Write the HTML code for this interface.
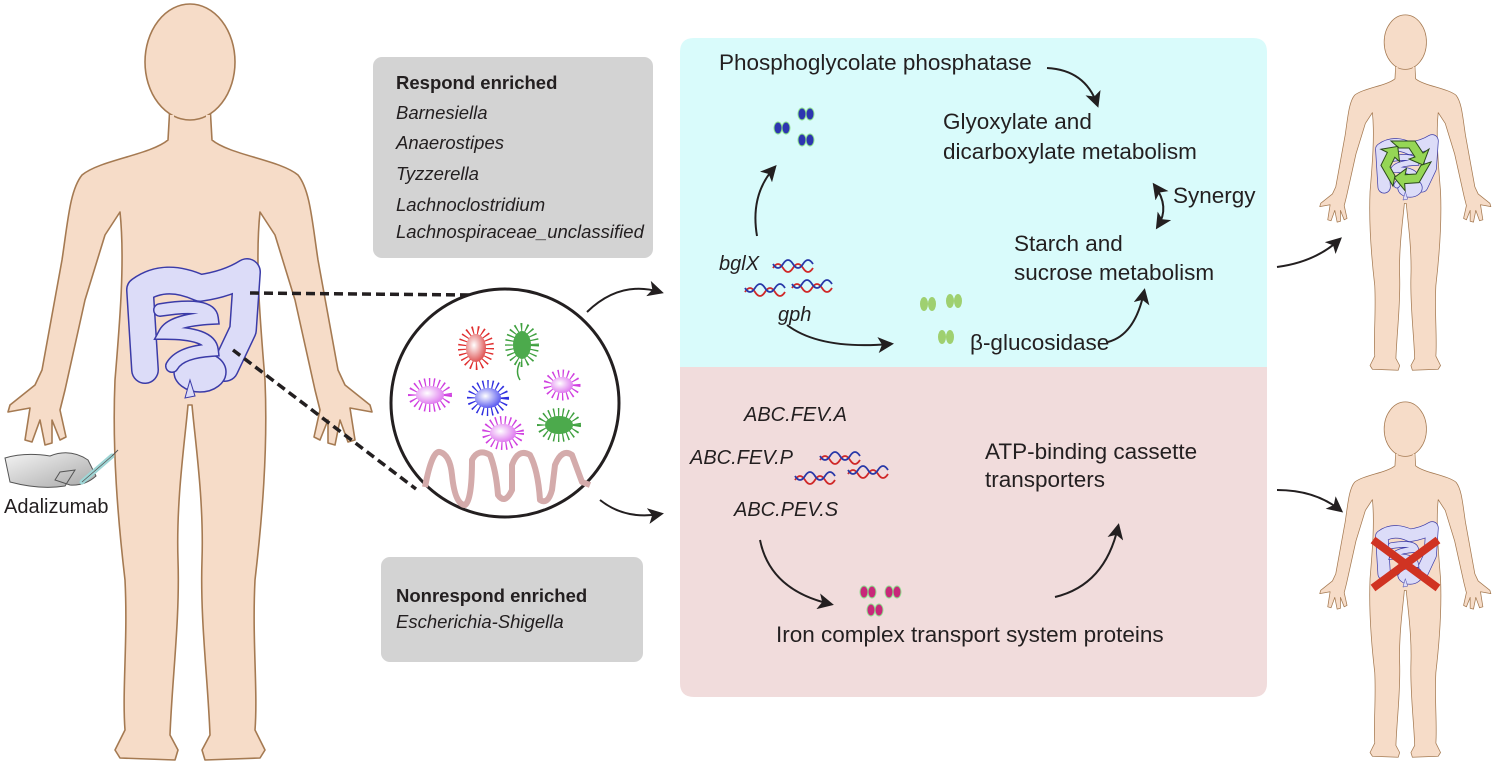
<!DOCTYPE html>
<html><head><meta charset="utf-8"><style>
html,body{margin:0;padding:0;background:#fff;}
svg{display:block;font-family:"Liberation Sans",Arial,sans-serif;}
</style></head><body>
<svg width="1500" height="763" viewBox="0 0 1500 763" xmlns="http://www.w3.org/2000/svg">
<defs>
<marker id="a" viewBox="0 0 12 12" refX="9" refY="6" markerWidth="16" markerHeight="16" orient="auto-start-reverse" markerUnits="userSpaceOnUse"><path d="M0,0 L12,6 L0,12 L3,6 Z" fill="#231f20"/></marker>
<radialGradient id="gw" cx="0.4" cy="0.4" r="0.6"><stop offset="0" stop-color="#fff"/><stop offset="1" stop-color="#fff" stop-opacity="0"/></radialGradient>
<linearGradient id="hand" x1="0" y1="0" x2="1" y2="1"><stop offset="0" stop-color="#f4f4f4"/><stop offset="1" stop-color="#a8a8a8"/></linearGradient>
<g id="intest">
 <path d="M145 370 L140 290 Q165 272 200 288 Q228 284 247 272 L243 330 L225 368" fill="none" stroke="#3b3ba8" stroke-width="28" stroke-linejoin="round" stroke-linecap="round"/>
 <path d="M145 370 L140 290 Q165 272 200 288 Q228 284 247 272 L243 330 L225 368" fill="none" stroke="#dcdcf8" stroke-width="25" stroke-linejoin="round" stroke-linecap="round"/>
 <ellipse cx="200" cy="372" rx="26" ry="20" fill="#dcdcf8" stroke="#3b3ba8" stroke-width="1.5"/>
 <path d="M160 310 Q210 302 212 318 Q172 320 165 333 Q210 333 212 350 Q180 352 172 366" fill="none" stroke="#3b3ba8" stroke-width="14" stroke-linecap="round"/>
 <path d="M160 310 Q210 302 212 318 Q172 320 165 333 Q210 333 212 350 Q180 352 172 366" fill="none" stroke="#dcdcf8" stroke-width="11" stroke-linecap="round"/>
 <path d="M190 380 L185 398 L195 396 Z" fill="#dcdcf8" stroke="#3b3ba8" stroke-width="1"/>
</g>
<g id="body">
 <path d="M170 105 L168 140 C150 155 100 160 82 175 C70 190 68 220 62 260 L42 370 L35 385 L10 405 L8 412 L30 408 L25 440 L32 442 L40 420 L45 445 L52 443 L52 420 L60 440 L66 437 L60 410 L65 390 L85 300 L105 235 L120 212 C125 260 120 320 115 380 C112 450 118 520 125 580 C128 640 122 690 125 730 L115 750 L120 758 L175 760 L178 750 L170 735 C172 680 180 620 178 560 C176 500 185 440 188 405 L192 405 C195 440 204 500 202 560 C200 620 208 680 210 735 L202 750 L205 760 L260 758 L265 750 L255 730 C258 690 252 640 255 580 C262 520 268 450 265 380 C260 320 255 260 260 212 L275 235 L295 300 L315 390 L320 410 L314 437 L320 440 L328 420 L328 443 L335 445 L340 420 L348 442 L355 440 L350 408 L372 412 L370 405 L345 385 L338 370 L318 260 C312 220 310 190 298 175 C280 160 230 155 212 140 L210 105 Z" fill="#f6dcc8" stroke="#a57a52" stroke-width="1.6" stroke-linejoin="round"/>
 <ellipse cx="190" cy="62" rx="45" ry="58" fill="#f6dcc8" stroke="#a57a52" stroke-width="1.6"/>
 <path d="M172 115 L172 128 M208 115 L208 128" stroke="#f6dcc8" stroke-width="4"/>
</g>
<g id="dna">
 <path d="M0 6 Q5 -2 10 6 T20 6 T30 6 T40 6" fill="none" stroke="#d02828" stroke-width="1.8"/>
 <path d="M0 2 Q5 10 10 2 T20 2 T30 2 T40 2" fill="none" stroke="#2838a8" stroke-width="1.8"/>
</g>
</defs>

<use href="#body"/>
<use href="#intest"/>

<path d="M5 458 Q25 452 50 456 Q70 448 88 460 L96 476 Q85 486 70 485 L55 480 L60 472 L75 470 L65 486 Q40 490 10 482 Z" fill="url(#hand)" stroke="#555" stroke-width="1"/>
<path d="M82 482 L112 456" stroke="#9fd6d6" stroke-width="5" stroke-linecap="round"/>
<path d="M82 482 L112 456" stroke="#555" stroke-width="0.8"/>
<path d="M112 456 L118 450" stroke="#555" stroke-width="1"/>
<text x="4" y="513" font-size="20" fill="#231f20">Adalizumab</text>

<path d="M250 293 L470 295" stroke="#231f20" stroke-width="3.5" stroke-dasharray="9 5"/>
<path d="M233 350 L416 489" stroke="#231f20" stroke-width="3.5" stroke-dasharray="9 5"/>

<rect x="373" y="57" width="280" height="201" rx="9" fill="#d3d3d3"/>
<text x="396" y="89" font-size="18.5" font-weight="bold" fill="#231f20">Respond enriched</text>
<g font-size="18.5" font-style="italic" fill="#231f20">
<text x="396" y="119">Barnesiella</text>
<text x="396" y="149">Anaerostipes</text>
<text x="396" y="180">Tyzzerella</text>
<text x="396" y="211">Lachnoclostridium</text>
<text x="396" y="238">Lachnospiraceae_unclassified</text>
</g>
<rect x="381" y="557" width="262" height="105" rx="9" fill="#d3d3d3"/>
<text x="396" y="602" font-size="18.5" font-weight="bold" fill="#231f20">Nonrespond enriched</text>
<text x="396" y="628" font-size="18.5" font-style="italic" fill="#231f20">Escherichia-Shigella</text>

<circle cx="505" cy="403" r="114" fill="#fff" stroke="#231f20" stroke-width="3"/>
<path d="M425 487 Q432 450 440 452 Q450 455 452 475 Q455 505 465 505 Q472 500 472 460 Q478 448 490 455 Q496 470 498 495 Q505 505 512 490 L512 465 Q518 448 530 455 Q538 470 540 500 Q548 505 552 490 L555 465 Q562 448 572 455 L582 482 L590 485" fill="none" stroke="#d4abab" stroke-width="6" stroke-linejoin="round"/>
<g>
 <ellipse cx="476" cy="348" rx="12" ry="16" fill="none" stroke="#e03030" stroke-width="12" stroke-dasharray="1.2 3"/>
 <ellipse cx="476" cy="348" rx="10" ry="14" fill="#e05a5a"/><ellipse cx="476" cy="348" rx="10" ry="14" fill="url(#gw)"/>
 <ellipse cx="522" cy="345" rx="11" ry="16" fill="none" stroke="#3fa03f" stroke-width="12" stroke-dasharray="1.2 3"/>
 <ellipse cx="522" cy="345" rx="9" ry="14" fill="#4caa4c"/>
 <path d="M520 362 Q515 372 520 380" stroke="#3fa03f" stroke-width="1.5" fill="none"/>
 <ellipse cx="430" cy="395" rx="16" ry="11" fill="none" stroke="#d040e0" stroke-width="12" stroke-dasharray="1.2 3"/>
 <ellipse cx="430" cy="395" rx="14" ry="9" fill="#e080f0"/><ellipse cx="430" cy="395" rx="14" ry="9" fill="url(#gw)"/>
 <ellipse cx="488" cy="398" rx="15" ry="12" fill="none" stroke="#3030e0" stroke-width="12" stroke-dasharray="1.2 3"/>
 <ellipse cx="488" cy="398" rx="13" ry="10" fill="#6060f0"/><ellipse cx="488" cy="398" rx="13" ry="10" fill="url(#gw)"/>
 <ellipse cx="562" cy="385" rx="13" ry="10" fill="none" stroke="#d040e0" stroke-width="11" stroke-dasharray="1.2 3"/>
 <ellipse cx="562" cy="385" rx="11" ry="8" fill="#e080f0"/><ellipse cx="562" cy="385" rx="11" ry="8" fill="url(#gw)"/>
 <ellipse cx="503" cy="433" rx="15" ry="11" fill="none" stroke="#d040e0" stroke-width="12" stroke-dasharray="1.2 3"/>
 <ellipse cx="503" cy="433" rx="13" ry="9" fill="#e080f0"/><ellipse cx="503" cy="433" rx="13" ry="9" fill="url(#gw)"/>
 <ellipse cx="559" cy="425" rx="16" ry="11" fill="none" stroke="#3fa03f" stroke-width="12" stroke-dasharray="1.2 3"/>
 <ellipse cx="559" cy="425" rx="14" ry="9" fill="#4caa4c"/>
</g>

<path d="M587 312 Q620 280 660 292" fill="none" stroke="#231f20" stroke-width="2" marker-end="url(#a)"/>
<path d="M600 500 Q625 520 660 514" fill="none" stroke="#231f20" stroke-width="2" marker-end="url(#a)"/>

<path d="M680 367 L680 52 Q680 38 694 38 L1253 38 Q1267 38 1267 52 L1267 367 Z" fill="#d9fbfb"/>
<path d="M680 367 L1267 367 L1267 683 Q1267 697 1253 697 L694 697 Q680 697 680 683 Z" fill="#f1dcdc"/>

<g font-size="22.5" fill="#231f20">
<text x="719" y="70">Phosphoglycolate phosphatase</text>
<text x="943" y="129">Glyoxylate and</text>
<text x="943" y="159">dicarboxylate metabolism</text>
<text x="1173" y="203">Synergy</text>
<text x="1014" y="251">Starch and</text>
<text x="1014" y="280">sucrose metabolism</text>
<text x="970" y="350">β-glucosidase</text>
<text x="985" y="459">ATP-binding cassette</text>
<text x="985" y="487">transporters</text>
<text x="776" y="642">Iron complex transport system proteins</text>
</g>
<g font-size="20" fill="#231f20" font-style="italic">
<text x="719" y="270">bglX</text>
<text x="778" y="321">gph</text>
<text x="744" y="421">ABC.FEV.A</text>
<text x="690" y="464">ABC.FEV.P</text>
<text x="734" y="516">ABC.PEV.S</text>
</g>

<g fill="none" stroke="#231f20" stroke-width="2" marker-end="url(#a)">
<path d="M1047 68 Q1085 70 1097 104"/>
<path d="M757 236 Q750 195 774 168"/>
<path d="M787 325 Q820 350 890 344"/>
<path d="M1108 342 Q1135 335 1144 292"/>
<path d="M760 540 Q770 590 830 604"/>
<path d="M1055 597 Q1105 585 1118 527"/>
<path d="M1277 267 Q1315 262 1339 240"/>
<path d="M1277 490 Q1315 490 1340 510"/>
</g>
<path d="M1155 186 Q1170 207 1158 226" fill="none" stroke="#231f20" stroke-width="2" marker-start="url(#a)" marker-end="url(#a)"/>

<g stroke="#8ee08e" stroke-width="1">
<ellipse cx="778" cy="128" rx="4" ry="6" fill="#2d35b0"/><ellipse cx="786" cy="128" rx="4" ry="6" fill="#2d35b0"/>
<ellipse cx="802" cy="114" rx="4" ry="6" fill="#2d35b0"/><ellipse cx="810" cy="114" rx="4" ry="6" fill="#2d35b0"/>
<ellipse cx="802" cy="140" rx="4" ry="6" fill="#2d35b0"/><ellipse cx="810" cy="140" rx="4" ry="6" fill="#2d35b0"/>
</g>
<g fill="#9fd070">
<ellipse cx="924" cy="304" rx="4" ry="7"/><ellipse cx="932" cy="304" rx="4" ry="7"/>
<ellipse cx="950" cy="301" rx="4" ry="7"/><ellipse cx="958" cy="301" rx="4" ry="7"/>
<ellipse cx="942" cy="337" rx="4" ry="7"/><ellipse cx="950" cy="337" rx="4" ry="7"/>
</g>
<g stroke="#8ee08e" stroke-width="1" fill="#c8287a">
<ellipse cx="864" cy="592" rx="4" ry="6"/><ellipse cx="872" cy="592" rx="4" ry="6"/>
<ellipse cx="889" cy="592" rx="4" ry="6"/><ellipse cx="897" cy="592" rx="4" ry="6"/>
<ellipse cx="871" cy="610" rx="4" ry="6"/><ellipse cx="879" cy="610" rx="4" ry="6"/>
</g>
<use href="#dna" transform="translate(773,262)"/>
<use href="#dna" transform="translate(745,286)"/>
<use href="#dna" transform="translate(792,282)"/>
<use href="#dna" transform="translate(820,454)"/>
<use href="#dna" transform="translate(795,474)"/>
<use href="#dna" transform="translate(848,468)"/>

<g transform="translate(1316,13) scale(0.47)">
 <use href="#body"/><use href="#intest"/>
</g>
<g transform="translate(1405,163)">
 <g fill="#95d655" stroke="#2a4a1a" stroke-width="1">
  <path d="M-14 -22 L10 -22 L18 -10 L24 -14 L18 2 L4 -4 L10 -6 L4 -15 L-6 -15 Z"/>
  <path d="M-14 -22 L10 -22 L18 -10 L24 -14 L18 2 L4 -4 L10 -6 L4 -15 L-6 -15 Z" transform="rotate(120)"/>
  <path d="M-14 -22 L10 -22 L18 -10 L24 -14 L18 2 L4 -4 L10 -6 L4 -15 L-6 -15 Z" transform="rotate(240)"/>
 </g>
</g>
<g transform="translate(1316,400) scale(0.47)">
 <use href="#body"/><use href="#intest"/>
</g>
<path d="M1373 540 L1438 588 M1438 540 L1373 588" stroke="#d03322" stroke-width="8"/>
</svg>
</body></html>
